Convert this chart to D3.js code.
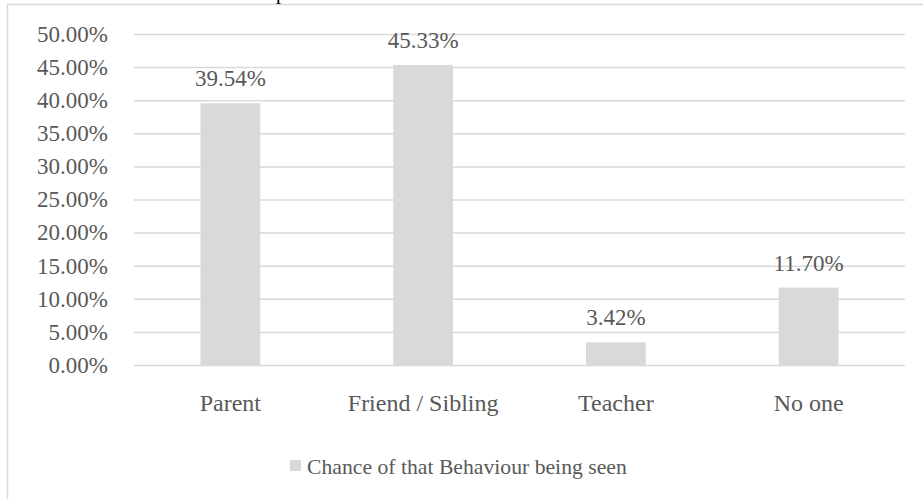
<!DOCTYPE html>
<html>
<head>
<meta charset="utf-8">
<script src="https://cdn.jsdelivr.net/npm/d3@7"></script>
<style>
  html, body { margin: 0; padding: 0; background: #fff; }
  svg { display: block; }
</style>
</head>
<body>
<svg id="chart" width="923" height="499"></svg>
<script>
const categories = ["Parent", "Friend / Sibling", "Teacher", "No one"];
const values = [39.54, 45.33, 3.42, 11.70];
const yTicks = [0, 5, 10, 15, 20, 25, 30, 35, 40, 45, 50];
const seriesName = "Chance of that Behaviour being seen";

const W = 923, H = 499;
const margin = { left: 134, right: 18, top: 34, bottom: 134 };
const font = "'Liberation Serif', 'Times New Roman', serif";
const textColor = "#595959";
const barColor = "#d9d9d9";
const gridColor = "#d9d9d9";

const svg = d3.select("#chart");

// chart area frame (runs off the right and bottom edges)
svg.append("rect")
  .attr("x", 7.5).attr("y", 4.5)
  .attr("width", W + 20).attr("height", H + 20)
  .attr("fill", "#fff")
  .attr("stroke", gridColor).attr("stroke-width", 1.5);

// title sits above the frame, mostly out of view
svg.append("text")
  .attr("x", 276).attr("y", -1)
  .attr("font-family", font).attr("font-size", 20)
  .attr("fill", "#000")
  .text("p");

const x = d3.scaleBand()
  .domain(categories)
  .range([margin.left, W - margin.right])
  .paddingInner(0.69).paddingOuter(0.345);

const y = d3.scaleLinear()
  .domain([0, 50])
  .range([H - margin.bottom, margin.top]);

// gridlines + y labels via axis
const yAxis = d3.axisLeft(y)
  .tickValues(yTicks)
  .tickSize(-(W - margin.right - margin.left))
  .tickPadding(26)
  .tickFormat(d => d.toFixed(2) + "%");

const gy = svg.append("g")
  .attr("transform", `translate(${margin.left},0)`)
  .call(yAxis);
gy.select(".domain").remove();
gy.selectAll(".tick line").attr("stroke", gridColor).attr("stroke-width", 1.5);
gy.selectAll(".tick text")
  .attr("font-family", font).attr("font-size", 23)
  .attr("fill", textColor);

// bars
svg.append("g").selectAll("rect")
  .data(values)
  .join("rect")
  .attr("x", (d, i) => x(categories[i]))
  .attr("y", d => y(d))
  .attr("width", x.bandwidth())
  .attr("height", d => y(0) - y(d))
  .attr("fill", barColor);

// value labels
svg.append("g").selectAll("text")
  .data(values)
  .join("text")
  .attr("x", (d, i) => x(categories[i]) + x.bandwidth() / 2)
  .attr("y", d => y(d) - 17)
  .attr("text-anchor", "middle")
  .attr("font-family", font).attr("font-size", 23)
  .attr("fill", textColor)
  .text(d => d.toFixed(2) + "%");

// category axis
const xAxis = d3.axisBottom(x).tickSize(0).tickPadding(29);
const gx = svg.append("g")
  .attr("transform", `translate(0,${y(0)})`)
  .call(xAxis);
gx.select(".domain").remove();
gx.selectAll(".tick text")
  .attr("font-family", font).attr("font-size", 24)
  .attr("fill", textColor);

// legend
const legend = svg.append("g").attr("transform", "translate(290,460)");
legend.append("rect")
  .attr("width", 11).attr("height", 11)
  .attr("fill", barColor);
legend.append("text")
  .attr("x", 17).attr("y", 14)
  .attr("font-family", font).attr("font-size", 21.7)
  .attr("fill", textColor)
  .text(seriesName);
</script>
</body>
</html>
